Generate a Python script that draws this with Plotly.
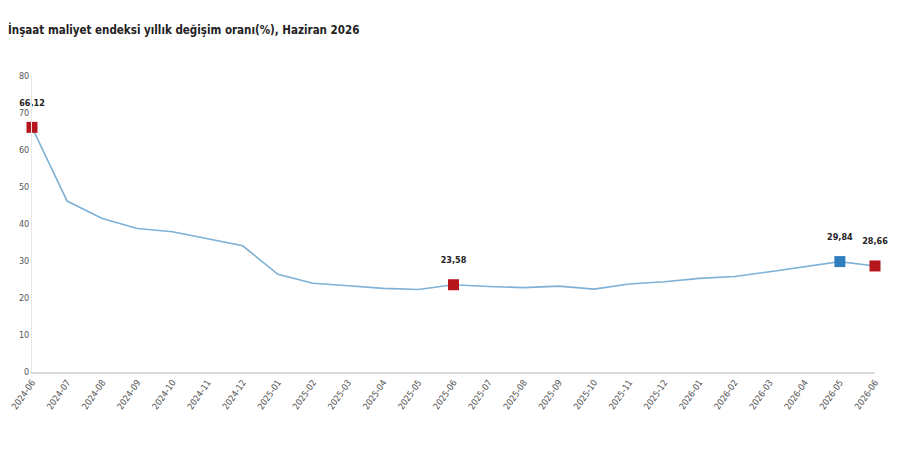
import plotly.graph_objects as go

# aylar ve yillik degisim (%)
months = ["2024-06", "2024-07", "2024-08", "2024-09", "2024-10", "2024-11", "2024-12",
          "2025-01", "2025-02", "2025-03", "2025-04", "2025-05", "2025-06", "2025-07",
          "2025-08", "2025-09", "2025-10", "2025-11", "2025-12", "2026-01", "2026-02",
          "2026-03", "2026-04", "2026-05", "2026-06"]
rates = [66.12, 46.2, 41.5, 38.8, 37.9, 35.9, 34.1,
         26.4, 24.0, 23.3, 22.6, 22.3, 23.58, 23.1,
         22.8, 23.2, 22.4, 23.8, 24.4, 25.3, 25.8,
         27.1, 28.4, 29.84, 28.66]

# isaretli noktalar
red_months = ["2024-06", "2025-06", "2026-06"]
blue_months = ["2026-05"]

FONT = "DejaVu Sans Condensed, Liberation Sans, Arial"

def pick(sel):
    xs = [m for m in months if m in sel]
    ys = [rates[months.index(m)] for m in xs]
    return xs, ys

fig = go.Figure()

fig.add_trace(go.Scatter(x=months, y=rates, mode="lines",
                         line=dict(color="#7fb1d6", width=1.6), hoverinfo="skip"))

for sel, col in [(red_months, "#b5151c"), (blue_months, "#2f7dbd")]:
    xs, ys = pick(sel)
    fig.add_trace(go.Scatter(
        x=xs, y=ys, mode="markers+text",
        marker=dict(symbol="square", size=11, color=col),
        text=["<b>" + f"{v:.2f}".replace(".", ",") + "</b><br> " for v in ys],
        textposition="top center",
        textfont=dict(family=FONT, size=9, color="#222"),
        cliponaxis=False))

fig.update_layout(
    width=900, height=450,
    margin=dict(l=24, r=33, t=68, b=86),
    plot_bgcolor="white", paper_bgcolor="white",
    showlegend=False,
    title=dict(text="<b>İnşaat maliyet endeksi yıllık değişim oranı(%), Haziran 2026</b>",
               x=0.0, xanchor="left", y=0.951, yanchor="middle",
               font=dict(family=FONT, size=11.5, color="#222")),
    font=dict(family=FONT, color="#555"),
)

fig.update_xaxes(type="category", range=[0, 24], showgrid=False, automargin=False,
                 showline=True, linecolor="#d9d9d9", linewidth=1.5,
                 tickangle=-55, tickfont=dict(size=9, color="#555"), ticks="")
fig.update_yaxes(range=[0, 80], dtick=10, showgrid=False, automargin=False,
                 showline=True, linecolor="#e6e6e6", linewidth=1,
                 tickfont=dict(size=9, color="#555"), ticks="", zeroline=False)

fig.write_html("out.html")
